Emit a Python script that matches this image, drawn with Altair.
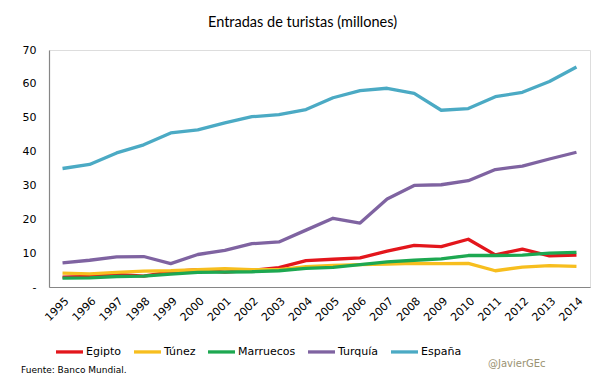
import altair as alt
import pandas as pd

years = [str(y) for y in range(1995, 2015)]
egipto = [2.9, 3.1, 3.7, 3.2, 4.5, 5.1, 4.4, 4.9, 5.7, 7.8, 8.2, 8.6, 10.6, 12.3, 11.9, 14.1, 9.5, 11.2, 9.2, 9.4]
tunez = [4.1, 3.9, 4.3, 4.7, 4.8, 5.1, 5.4, 5.1, 5.1, 6.0, 6.4, 6.6, 6.8, 7.0, 6.9, 7.0, 4.8, 5.9, 6.3, 6.1]
marruecos = [2.6, 2.7, 3.1, 3.2, 3.8, 4.3, 4.4, 4.5, 4.8, 5.5, 5.8, 6.6, 7.4, 7.9, 8.3, 9.3, 9.3, 9.4, 10.0, 10.2]
turquia = [7.1, 7.9, 8.9, 9.0, 6.9, 9.6, 10.8, 12.8, 13.3, 16.8, 20.3, 18.9, 26.0, 30.0, 30.2, 31.4, 34.7, 35.7, 37.8, 39.8]
espana = [35.0, 36.2, 39.6, 42.0, 45.5, 46.4, 48.5, 50.3, 50.9, 52.4, 55.9, 58.0, 58.7, 57.2, 52.2, 52.7, 56.2, 57.5, 60.7, 65.0]

series = ["Egipto", "Túnez", "Marruecos", "Turquía", "España"]
colors = ["#E3161C", "#F7BE1E", "#1DA851", "#7F63A1", "#4BAAC4"]
values = [egipto, tunez, marruecos, turquia, espana]

rows = []
for name, vals in zip(series, values):
    for y, v in zip(years, vals):
        rows.append({"Año": y, "País": name, "Turistas": v, "orden": series.index(name)})
df = pd.DataFrame(rows)

FONT = "DejaVu Sans"

lines = alt.Chart(df).mark_line(strokeWidth=3.3, strokeCap="butt", strokeJoin="round").encode(
    x=alt.X("Año:O", sort=years,
            scale=alt.Scale(type="point", padding=0.5),
            axis=alt.Axis(title=None, labelAngle=-45, ticks=False, domainColor="#868686",
                          labelFont=FONT, labelFontSize=11, labelColor="#000000",
                          labelPadding=8, domainWidth=1.2)),
    y=alt.Y("Turistas:Q", scale=alt.Scale(domain=[0, 70], nice=False),
            axis=alt.Axis(title=None, values=[0, 10, 20, 30, 40, 50, 60, 70], grid=False, ticks=False,
                          domainColor="#868686", labelFont=FONT, labelFontSize=11,
                          labelColor="#000000", labelPadding=13, domainWidth=1.2,
                          labelExpr="datum.value == 0 ? '-' : datum.label")),
    color=alt.Color("País:N", scale=alt.Scale(domain=series, range=colors),
                    legend=alt.Legend(title=None, orient="none", direction="horizontal",
                                      legendX=5, legendY=286, symbolType="stroke",
                                      symbolSize=729, symbolStrokeWidth=3.3,
                                      labelFont=FONT, labelFontSize=11, labelColor="#000000",
                                      labelOffset=1, columnPadding=5)),
    order=alt.Order("orden:Q"),
    detail="País:N",
)

foot = alt.Chart(pd.DataFrame({"t": ["Fuente: Banco Mundial."]})).mark_text(
    align="left", baseline="middle", font=FONT, fontSize=9, color="#000000"
).encode(x=alt.value(-28), y=alt.value(320), text="t:N")

handle = alt.Chart(pd.DataFrame({"t": ["@JavierGEc"]})).mark_text(
    align="left", baseline="middle", font=FONT, fontSize=10, color="#9A9272"
).encode(x=alt.value(439), y=alt.value(314), text="t:N")

chart = alt.layer(lines, foot, handle).properties(
    width=541, height=237,
    title=alt.TitleParams("Entradas de turistas (millones)", font="Lato", fontSize=14.5,
                          fontWeight="normal", color="#000000", anchor="middle", dx=-17, offset=14),
    autosize=alt.AutoSizeParams(type="none"),
    padding={"left": 41, "top": 42, "right": 7, "bottom": 90},
).configure_view(stroke=None).configure(background="white")

chart.save("out.html", embed_options={"renderer": "svg", "actions": False})
